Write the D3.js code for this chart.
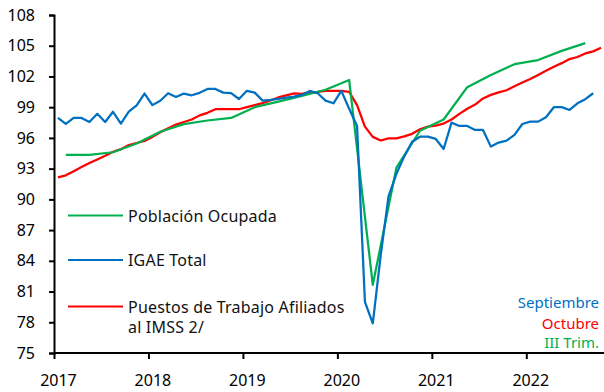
<!DOCTYPE html>
<html>
<head>
<meta charset="utf-8">
<script src="https://cdn.jsdelivr.net/npm/d3@7"></script>
<style>
  html, body { margin: 0; padding: 0; background: #fff; }
  svg { display: block; font-family: "Noto Sans", "DejaVu Sans", sans-serif; }
</style>
</head>
<body>
<svg id="chart" width="604" height="392"></svg>
<script>
// Monthly series start in January 2017; index 0 = Jan 2017.
const years = [2017, 2018, 2019, 2020, 2021, 2022];
const yTicks = [75, 78, 81, 84, 87, 90, 93, 96, 99, 102, 105, 108];

// IGAE Total, Jan 2017 - Sep 2022
const igae = [
  97.95, 97.36, 97.95, 97.95, 97.55, 98.35, 97.55, 98.55, 97.40, 98.56, 99.18, 100.33,
  99.20, 99.63, 100.36, 100.00, 100.33, 100.16, 100.40, 100.78, 100.78, 100.42, 100.38, 99.80,
  100.60, 100.42, 99.64, 99.71, 99.80, 99.93, 100.03, 100.20, 100.59, 100.36, 99.64, 99.38,
  100.59, 98.85, 97.17, 80.00, 77.90, 84.50, 90.30, 92.50, 94.20, 95.63, 96.12, 96.12,
  95.90, 94.92, 97.49, 97.17, 97.17, 96.78, 96.78, 95.15, 95.54, 95.73, 96.29, 97.36,
  97.59, 97.59, 98.02, 99.00, 99.00, 98.73, 99.38, 99.78, 100.36
];

// Puestos de trabajo afiliados al IMSS, Jan 2017 - Oct 2022
const imss = [
  92.15, 92.35, 92.75, 93.15, 93.55, 93.90, 94.25, 94.65, 94.90, 95.30, 95.50, 95.70,
  96.10, 96.55, 96.95, 97.30, 97.55, 97.80, 98.20, 98.45, 98.80, 98.80, 98.80, 98.80,
  99.00, 99.20, 99.40, 99.65, 99.95, 100.15, 100.35, 100.30, 100.45, 100.50, 100.60, 100.60,
  100.60, 100.50, 99.20, 97.10, 96.10, 95.75, 95.95, 95.95, 96.15, 96.40, 96.85, 97.10,
  97.20, 97.40, 97.80, 98.35, 98.85, 99.25, 99.85, 100.20, 100.45, 100.65, 101.05, 101.40,
  101.75, 102.15, 102.55, 102.95, 103.30, 103.70, 103.90, 104.25, 104.45, 104.80
];

// Población ocupada, quarterly 2017-I to 2022-III (placed at the middle month)
const ocupada = [
  94.35, 94.35, 94.60, 95.45,
  96.60, 97.35, 97.70, 97.95,
  99.00, 99.55, 100.10, 100.70,
  101.65, 81.65, 93.10, 96.70,
  97.80, 100.95, 102.15, 103.20,
  103.60, 104.50, 105.25
];

const seriesNames = ["Población Ocupada", "IGAE Total", "Puestos de Trabajo Afiliados|al IMSS 2/"];
const seriesColors = ["#00B050", "#0070C0", "#FF0000"];
const notes = ["Septiembre", "Octubre", "III Trim."];

const svg = d3.select("#chart");
const x = d3.scaleLinear().domain([0, 70]).range([54, 605]);
const y = d3.scaleLinear().domain([75, 108]).range([353, 15]);

// axes
const yAxis = d3.axisLeft(y).tickValues(yTicks).tickSize(5).tickPadding(14).tickFormat(d3.format("d"));
const gy = svg.append("g").attr("transform", `translate(${x(0)},0)`).call(yAxis);

const xAxis = d3.axisBottom(x).tickValues(years.map((yr, i) => i * 12)).tickSize(6).tickPadding(16)
  .tickFormat((d, i) => years[i]);
const gx = svg.append("g").attr("transform", `translate(0,${y(75)})`).call(xAxis);
gx.selectAll("text").attr("dx", x(0.5) - x(0));

[gx, gy].forEach(g => {
  g.select(".domain").attr("stroke", "#000").attr("stroke-width", 2);
  g.selectAll(".tick line").attr("stroke", "#000").attr("stroke-width", 2);
  g.selectAll("text").attr("fill", "#000").style("font-size", "16px")
    .style("font-family", "'Noto Sans', sans-serif");
});
gx.select(".domain").attr("d", `M${x(0)},0H${x(70)}`);

// lines
const monthly = (arr) => arr.map((v, i) => ({ m: i + 0.5, v }));
const quarterly = (arr) => arr.map((v, i) => ({ m: i * 3 + 1.5, v }));
const line = d3.line().x(d => x(d.m)).y(d => y(d.v));

const data = [quarterly(ocupada), monthly(igae), monthly(imss)];
const drawOrder = [2, 0, 1];
drawOrder.forEach(k => {
  svg.append("path").datum(data[k])
    .attr("fill", "none").attr("stroke", seriesColors[k])
    .attr("stroke-width", 2.25).attr("stroke-linejoin", "round")
    .attr("d", line);
});

// legend
const legendY = [215.5, 260, 306.5];
seriesNames.forEach((name, k) => {
  const g = svg.append("g");
  g.append("line").attr("x1", 68).attr("x2", 123).attr("y1", legendY[k]).attr("y2", legendY[k])
    .attr("stroke", seriesColors[k]).attr("stroke-width", 2);
  const t = g.append("text").attr("x", 128).attr("y", legendY[k] + 6)
    .attr("fill", "#111").style("font-size", "16px").style("letter-spacing", "0.2px");
  name.split("|").forEach((part, j) => {
    t.append("tspan").attr("x", 128).attr("dy", j === 0 ? 0 : 20).text(part);
  });
});

// period notes
const noteY = [307.5, 329, 347.5];
const noteColors = ["#0070C0", "#FF0000", "#00B050"];
notes.forEach((n, k) => {
  svg.append("text").attr("x", 599).attr("y", noteY[k]).attr("text-anchor", "end")
    .attr("fill", noteColors[k]).style("font-size", "15px").text(n);
});
</script>
</body>
</html>
